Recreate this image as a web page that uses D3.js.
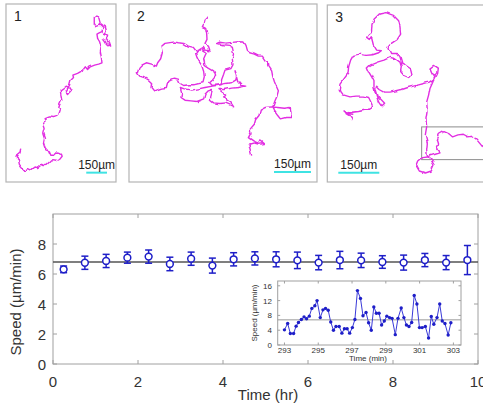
<!DOCTYPE html>
<html>
<head>
<meta charset="utf-8">
<script src="https://cdn.jsdelivr.net/npm/d3@7"></script>
<style>
  body { margin: 0; background: #fff; }
  svg { display: block; font-family: "Liberation Sans", Arial, sans-serif; }
</style>
</head>
<body>
<div id="chart"></div>
<script>
// ---- binned speed vs time (30 min bins) ----
var binTime  = [0.25, 0.75, 1.25, 1.75, 2.25, 2.75, 3.25, 3.75, 4.25, 4.75, 5.25, 5.75, 6.25, 6.75, 7.25, 7.75, 8.25, 8.75, 9.25, 9.75];
var binSpeed = [6.31, 6.75, 6.87, 7.09, 7.16, 6.67, 7.02, 6.56, 6.98, 7.04, 6.98, 6.91, 6.76, 6.93, 6.91, 6.80, 6.76, 6.93, 6.76, 6.93];
var binErr   = [0.22, 0.44, 0.44, 0.37, 0.44, 0.45, 0.44, 0.50, 0.44, 0.44, 0.50, 0.55, 0.48, 0.58, 0.48, 0.42, 0.50, 0.44, 0.47, 0.97];
var meanSpeed = 6.8;
var xTicks = [0, 2, 4, 6, 8, 10];
var yTicks = [0, 2, 4, 6, 8];

// ---- inset: instantaneous speed, 293-303 min ----
var insetTime = [293.00, 293.19, 293.35, 293.54, 293.69, 293.83, 294.00, 294.16, 294.31, 294.47, 294.62, 294.80, 294.93,
  295.12, 295.28, 295.43, 295.59, 295.74, 295.90, 296.05, 296.24, 296.40, 296.55, 296.71, 296.86, 297.02, 297.17,
  297.32, 297.50, 297.65, 297.83, 297.98, 298.14, 298.29, 298.44, 298.60, 298.75, 298.91, 299.06, 299.22, 299.37,
  299.56, 299.72, 299.91, 300.07, 300.22, 300.37, 300.53, 300.68, 300.84, 300.99, 301.15, 301.34, 301.53, 301.69,
  301.84, 302.03, 302.19, 302.34, 302.50, 302.69, 302.85];
var insetSpeed = [4.1, 5.8, 3.1, 3.1, 5.1, 6.1, 6.9, 7.6, 7.1, 7.8, 9.9, 10.6, 12.0,
  7.4, 9.5, 9.9, 9.4, 6.2, 4.0, 5.0, 5.0, 3.2, 4.4, 4.4, 3.2, 4.7, 6.9,
  14.7, 12.6, 7.9, 8.8, 6.0, 4.0, 10.3, 8.6, 8.6, 5.4, 6.5, 7.8, 7.4, 7.2,
  2.8, 7.2, 10.0, 7.4, 5.4, 5.0, 6.1, 13.4, 11.1, 4.7, 4.7, 5.0, 1.9, 7.7,
  5.6, 7.4, 11.1, 6.5, 5.8, 2.7, 6.0];
var insetXTicks = [293, 295, 297, 299, 301, 303];
var insetYTicks = [0, 4, 8, 12, 16];

// ---- cell tracks, positions in micrograph pixels ----
var track1 = [[62,445],[60,455],[52,462],[48,472],[55,478],[58,492],[64,500],[68,505],[72,512],[82,505],[90,509],[95,508],
  [105,500],[112,502],[118,498],[125,492],[132,496],[138,495],[148,485],[155,478],[165,480],[172,482],[178,478],[186,468],
  [182,457],[170,455],[160,465],[152,465],[148,455],[140,452],[135,445],[130,430],[133,415],[128,400],[132,385],[129,376],
  [130,370],[138,362],[135,355],[148,350],[160,352],[168,349],[175,345],[180,330],[176,322],[178,315],[185,300],[182,285],
  [180,272],[190,265],[198,258],[206,262],[212,272],[205,280],[198,272],[208,255],[212,240],[220,232],[218,225],[232,220],
  [240,215],[248,210],[255,200],[262,208],[270,200],[283,195],[295,192],[305,188],[303,170],[300,155],[302,140],[298,125],
  [292,115],[290,102],[298,98],[305,95],[308,82],[300,75],[288,80],[282,70],[282,55],[290,48],[296,55],[300,70],[308,76],
  [315,80],[318,92],[310,100],[322,105],[318,118],[325,128],[328,138],[318,130],[312,120],[305,115]];

var track2 = [[248,50],[240,58],[238,68],[232,80],[242,85],[245,100],[246,118],[240,130],[248,140],[252,152],[240,150],
  [235,142],[225,148],[215,155],[205,142],[190,138],[176,130],[160,128],[150,126],[140,127],[120,130],[108,140],[112,158],
  [107,176],[98,188],[94,198],[80,192],[64,188],[52,194],[42,204],[37,218],[44,228],[58,232],[72,240],[80,248],[78,262],
  [86,272],[98,268],[110,264],[124,262],[127,250],[132,240],[145,234],[160,237],[166,250],[176,256],[192,254],[206,254],
  [222,250],[234,248],[238,232],[236,214],[230,196],[222,184],[216,172],[212,160],[220,150],[232,150],[244,158],[236,176],
  [240,196],[252,204],[266,212],[272,228],[262,240],[254,248],[262,256],[282,254],[300,250],[318,248],[332,240],[336,226],
  [330,212],[338,244],[348,256],[362,258],[340,262],[320,264],[300,268],[282,268],[292,276],[302,282],[296,290],[306,300],
  [318,308],[326,320],[314,314],[300,308],[284,310],[266,308],[256,300],[258,284],[262,268],[250,272],[240,282],[236,296],
  [216,304],[198,302],[180,300],[168,292],[170,276],[166,262],[178,266],[200,270],[220,266],[240,262],[262,258],[288,254],
  [290,238],[296,222],[300,210],[318,205],[324,194],[322,176],[326,160],[322,142],[312,136],[294,134],[276,130],[284,126],
  [302,129],[322,127],[340,125],[354,126],[360,136],[364,150],[374,158],[388,162],[400,168],[412,168],[420,180],[430,186],
  [432,200],[440,212],[443,228],[448,244],[454,258],[460,272],[456,288],[450,302],[444,318],[448,332],[458,346],[466,356],
  [482,352],[497,352],[498,338],[496,322],[478,324],[458,322],[440,320],[420,322],[406,330],[402,346],[392,358],[388,372],
  [376,386],[378,398],[370,412],[384,422],[398,428],[408,422],[418,430],[402,432],[386,428],[372,432],[376,450],[380,466]];

var track3 = [[488,440],[480,430],[470,418],[458,408],[444,410],[430,402],[414,404],[398,410],[386,400],[372,394],[358,402],
  [352,418],[356,432],[350,446],[360,458],[346,462],[332,466],[322,470],[308,472],[296,482],[290,498],[298,512],[316,518],
  [334,512],[342,494],[334,480],[322,468],[320,448],[322,428],[316,404],[320,380],[318,356],[322,330],[320,306],[326,284],
  [330,262],[338,244],[344,228],[336,218],[330,204],[340,196],[352,204],[350,220],[342,236],[328,246],[312,250],[296,254],
  [280,258],[264,262],[246,268],[228,272],[210,276],[194,276],[180,268],[170,258],[166,270],[172,290],[184,302],[194,312],
  [186,320],[176,306],[170,290],[162,262],[162,244],[156,232],[148,218],[142,204],[152,194],[172,186],[192,180],[210,172],
  [226,176],[240,186],[244,200],[242,214],[252,226],[266,232],[276,222],[272,206],[258,196],[246,190],[240,170],[232,160],
  [212,160],[204,142],[214,130],[232,118],[242,102],[240,80],[236,62],[220,46],[198,38],[178,42],[162,58],[156,76],
  [154,98],[146,104],[140,112],[148,118],[154,110],[160,134],[170,150],[184,152],[176,158],[158,164],[138,166],[118,162],
  [100,166],[92,180],[86,200],[84,220],[72,236],[60,252],[58,268],[70,284],[90,290],[108,288],[130,288],[146,292],[152,304],
  [158,318],[150,330],[134,330],[116,334],[98,336],[80,338],[72,332],[86,344],[96,358],[88,346],[78,340],[100,342]];
var zoomRegion3 = [305, 380, 520, 478];   // x0, y0, x1, y1 (micrograph px)

var panelLabels = ["1", "2", "3"];
var scaleUm = 150;
var umPerPx = [150 / 62, 150 / 111, 150 / 123];

// ---- layout ----
var W = 483, H = 407;
var svg = d3.select("#chart").append("svg").attr("width", W).attr("height", H);

// gentle wobble so hand-typed tracks read like a jittery random walk
var defs = svg.append("defs");
var wob = defs.append("filter").attr("id", "wobble").attr("x", "-5%").attr("y", "-5%").attr("width", "110%").attr("height", "110%");
wob.append("feTurbulence").attr("type", "fractalNoise").attr("baseFrequency", 0.14).attr("numOctaves", 1).attr("seed", 5).attr("result", "n");
wob.append("feDisplacementMap").attr("in", "SourceGraphic").attr("in2", "n").attr("scale", 4)
  .attr("xChannelSelector", "R").attr("yChannelSelector", "G");

var panels = [
  { track: track1, field: [18, 347, 12, 545], box: [6, 4, 116, 182], barX: 258, barY: 517 },
  { track: track2, field: [12, 576, 12, 545], box: [129, 4, 317, 182], barX: 447, barY: 515 },
  { track: track3, field: [22, 510, 15, 545], box: [327.3, 5, 490, 182], barX: 55, barY: 517 }
];

panels.forEach(function (p, i) {
  var sx = d3.scaleLinear().domain([p.field[0], p.field[1]]).range([p.box[0], p.box[2]]);
  var sy = d3.scaleLinear().domain([p.field[2], p.field[3]]).range([p.box[1], p.box[3]]);
  var g = svg.append("g");
  g.append("rect").attr("x", p.box[0]).attr("y", p.box[1])
    .attr("width", p.box[2] - p.box[0]).attr("height", p.box[3] - p.box[1])
    .attr("fill", "#fff").attr("stroke", "#b4b4b4").attr("stroke-width", 1.2);
  if (i === 2) {
    g.append("rect").attr("x", sx(zoomRegion3[0])).attr("y", sy(zoomRegion3[1]))
      .attr("width", sx(zoomRegion3[2]) - sx(zoomRegion3[0])).attr("height", sy(zoomRegion3[3]) - sy(zoomRegion3[1]))
      .attr("fill", "none").attr("stroke", "#8c8c8c").attr("stroke-width", 1);
  }
  g.append("g").attr("filter", "url(#wobble)").append("path").datum(p.track)
    .attr("d", d3.line().x(function (d) { return sx(d[0]); }).y(function (d) { return sy(d[1]); }))
    .attr("fill", "none").attr("stroke", "#e22ee2").attr("stroke-width", 1.4).attr("stroke-linejoin", "round");
  g.append("text").attr("x", p.box[0] + 8).attr("y", p.box[1] + 17)
    .attr("font-size", 14).attr("fill", "#222").text(panelLabels[i]);
  // scale bar: 150 um
  var len = scaleUm / umPerPx[i];
  var bx0 = sx(p.barX), bx1 = sx(p.barX + len), by = sy(p.barY);
  g.append("line").attr("x1", bx0).attr("x2", bx1).attr("y1", by).attr("y2", by)
    .attr("stroke", "#3fe3e3").attr("stroke-width", 2);
  g.append("text").attr("x", (bx0 + bx1) / 2).attr("y", by - 4).attr("text-anchor", "middle")
    .attr("font-size", 12).attr("fill", "#222").text(scaleUm + "µm");
});

// ---- main chart ----
var blue = "#1e1ec8";
var x = d3.scaleLinear().domain([0, 10]).range([53, 478]);
var y = d3.scaleLinear().domain([0, 10]).range([364, 214]);
var main = svg.append("g");
main.append("rect").attr("x", x(0)).attr("y", y(10)).attr("width", x(10) - x(0)).attr("height", y(0) - y(10))
  .attr("fill", "#fff").attr("stroke", "#a0a0a0").attr("stroke-width", 1);

var tk = 4;
xTicks.forEach(function (t) {
  main.append("line").attr("x1", x(t)).attr("x2", x(t)).attr("y1", y(0)).attr("y2", y(0) - tk).attr("stroke", "#a0a0a0");
  main.append("line").attr("x1", x(t)).attr("x2", x(t)).attr("y1", y(10)).attr("y2", y(10) + tk).attr("stroke", "#a0a0a0");
  main.append("text").attr("x", x(t)).attr("y", 387).attr("text-anchor", "middle")
    .attr("font-size", 15).attr("fill", "#333").text(t);
});
yTicks.forEach(function (t) {
  main.append("line").attr("x1", x(0)).attr("x2", x(0) + tk).attr("y1", y(t)).attr("y2", y(t)).attr("stroke", "#a0a0a0");
  main.append("line").attr("x1", x(10)).attr("x2", x(10) - tk).attr("y1", y(t)).attr("y2", y(t)).attr("stroke", "#a0a0a0");
  main.append("text").attr("x", 46).attr("y", y(t) + 5.5).attr("text-anchor", "end")
    .attr("font-size", 15).attr("fill", "#333").text(t);
});
main.append("text").attr("transform", "translate(21,302) rotate(-90)").attr("text-anchor", "middle")
  .attr("font-size", 15).attr("fill", "#333").text("Speed (µm/min)");
main.append("text").attr("x", 268).attr("y", 400).attr("text-anchor", "middle")
  .attr("font-size", 15).attr("fill", "#333").text("Time (hr)");

main.append("line").attr("x1", x(0)).attr("x2", x(10)).attr("y1", y(meanSpeed)).attr("y2", y(meanSpeed))
  .attr("stroke", "#555").attr("stroke-width", 1.3);

var pts = main.selectAll("g.pt").data(binTime).enter().append("g").attr("class", "pt");
pts.append("line")
  .attr("x1", function (d) { return x(d); }).attr("x2", function (d) { return x(d); })
  .attr("y1", function (d, i) { return y(binSpeed[i] - binErr[i]); })
  .attr("y2", function (d, i) { return y(binSpeed[i] + binErr[i]); })
  .attr("stroke", blue).attr("stroke-width", 1.5);
[-1, 1].forEach(function (s) {
  pts.append("line")
    .attr("x1", function (d) { return x(d) - 3.5; }).attr("x2", function (d) { return x(d) + 3.5; })
    .attr("y1", function (d, i) { return y(binSpeed[i] + s * binErr[i]); })
    .attr("y2", function (d, i) { return y(binSpeed[i] + s * binErr[i]); })
    .attr("stroke", blue).attr("stroke-width", 1.5);
});
pts.append("circle").attr("cx", function (d) { return x(d); }).attr("cy", function (d, i) { return y(binSpeed[i]); })
  .attr("r", 3.4).attr("fill", "#fff").attr("stroke", blue).attr("stroke-width", 1.5);

// ---- inset ----
var ix = d3.scaleLinear().domain([292.6, 303.45]).range([277.7, 461]);
var iy = d3.scaleLinear().domain([0, 17.3]).range([345, 281]);
var ins = svg.append("g");
ins.append("rect").attr("x", ix(292.6)).attr("y", iy(17.3)).attr("width", ix(303.45) - ix(292.6)).attr("height", iy(0) - iy(17.3))
  .attr("fill", "#fff").attr("stroke", "#a0a0a0").attr("stroke-width", 1);
var itk = 2.5;
insetXTicks.forEach(function (t) {
  ins.append("line").attr("x1", ix(t)).attr("x2", ix(t)).attr("y1", iy(0)).attr("y2", iy(0) - itk).attr("stroke", "#a0a0a0");
  ins.append("line").attr("x1", ix(t)).attr("x2", ix(t)).attr("y1", iy(17.3)).attr("y2", iy(17.3) + itk).attr("stroke", "#a0a0a0");
  ins.append("text").attr("x", ix(t)).attr("y", 352.5).attr("text-anchor", "middle")
    .attr("font-size", 8).attr("fill", "#333").text(t);
});
insetYTicks.forEach(function (t) {
  ins.append("line").attr("x1", ix(292.6)).attr("x2", ix(292.6) + itk).attr("y1", iy(t)).attr("y2", iy(t)).attr("stroke", "#a0a0a0");
  ins.append("line").attr("x1", ix(303.45)).attr("x2", ix(303.45) - itk).attr("y1", iy(t)).attr("y2", iy(t)).attr("stroke", "#a0a0a0");
  ins.append("text").attr("x", 272).attr("y", iy(t) + 3).attr("text-anchor", "end")
    .attr("font-size", 8).attr("fill", "#333").text(t);
});
ins.append("text").attr("transform", "translate(257,313) rotate(-90)").attr("text-anchor", "middle")
  .attr("font-size", 8).attr("fill", "#333").text("Speed (µm/min)");
ins.append("text").attr("x", 368).attr("y", 361).attr("text-anchor", "middle")
  .attr("font-size", 8).attr("fill", "#333").text("Time (min)");
ins.append("line").attr("x1", ix(292.6)).attr("x2", ix(303.45)).attr("y1", iy(meanSpeed)).attr("y2", iy(meanSpeed))
  .attr("stroke", "#999").attr("stroke-width", 1);
ins.append("path").datum(insetTime)
  .attr("d", d3.line().x(function (d) { return ix(d); }).y(function (d, i) { return iy(insetSpeed[i]); }))
  .attr("fill", "none").attr("stroke", "#3a3ad8").attr("stroke-width", 1);
ins.selectAll("circle.ip").data(insetTime).enter().append("circle").attr("class", "ip")
  .attr("cx", function (d) { return ix(d); }).attr("cy", function (d, i) { return iy(insetSpeed[i]); })
  .attr("r", 1.7).attr("fill", "#1e1ec8");
</script>
</body>
</html>
